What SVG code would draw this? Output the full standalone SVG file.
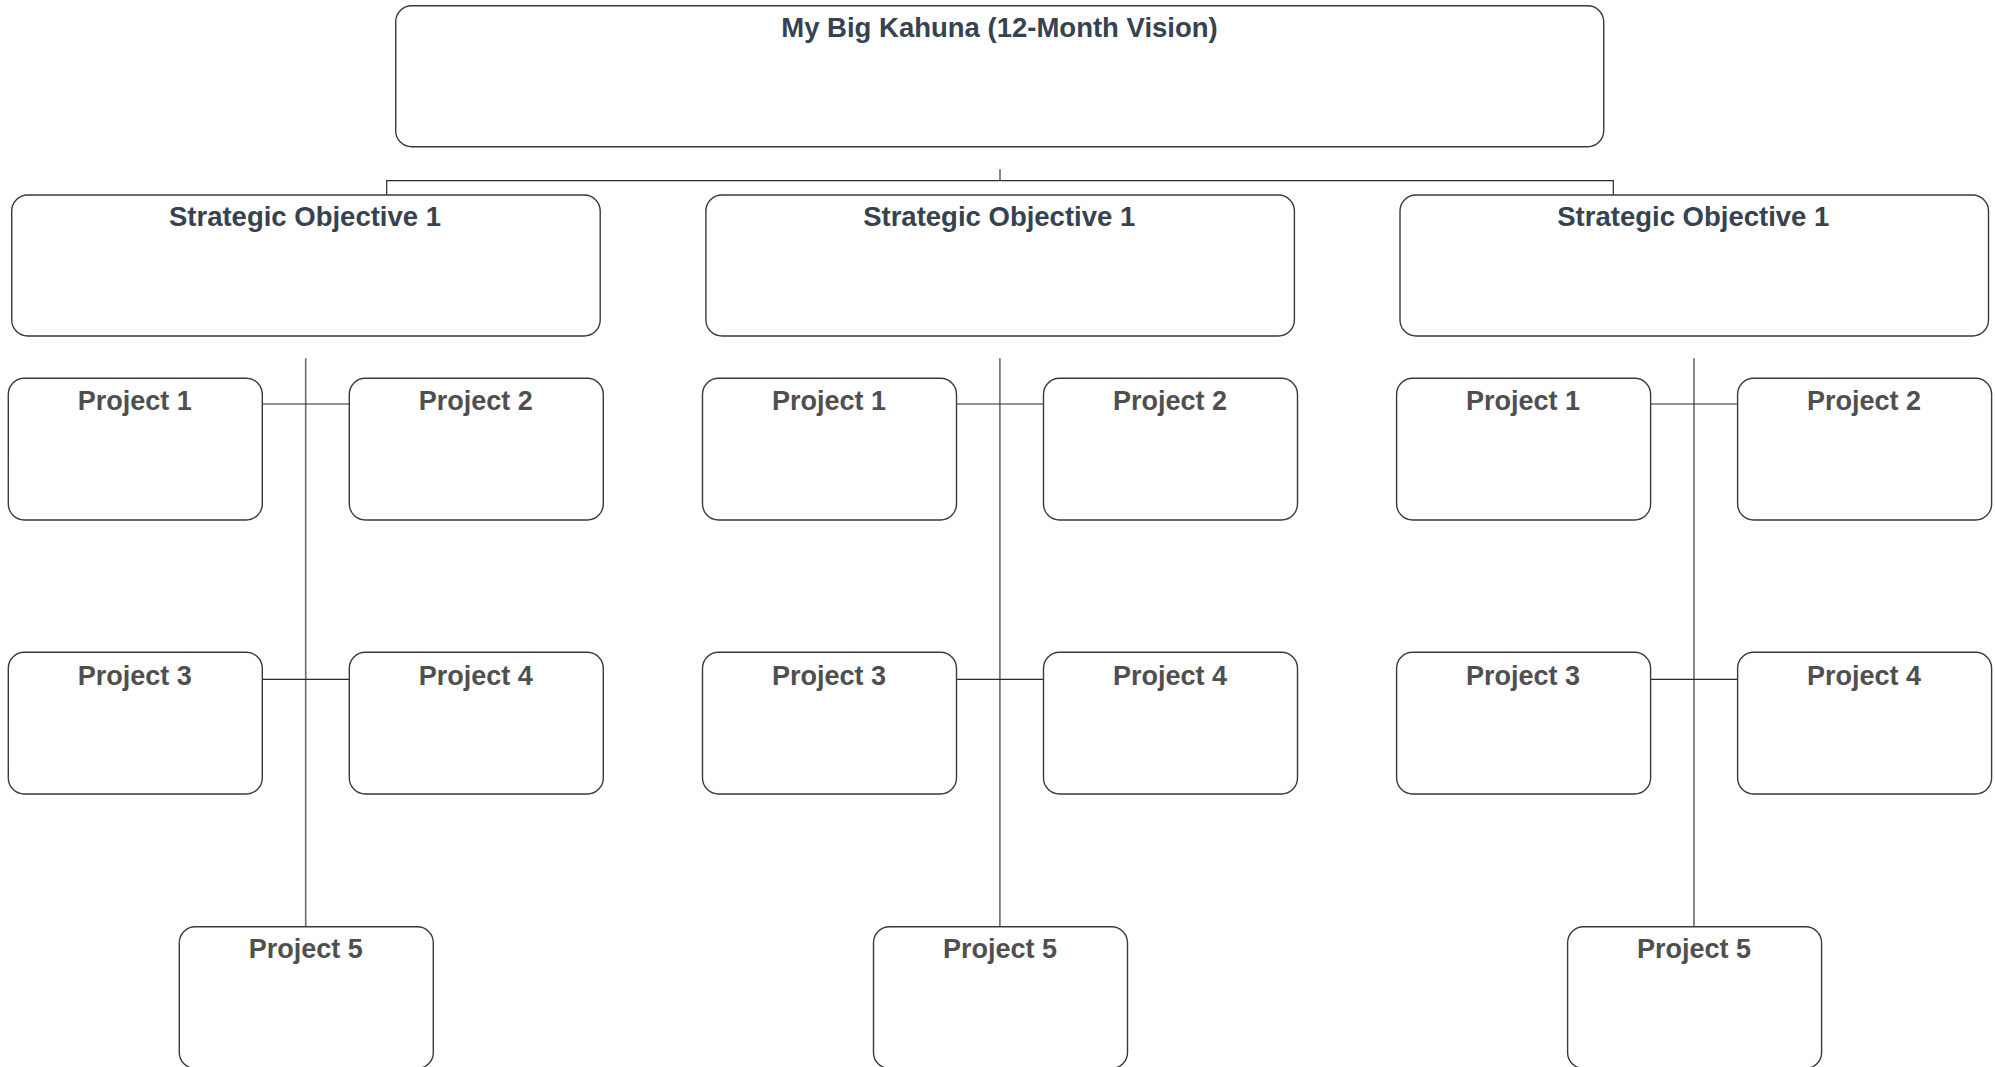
<svg xmlns="http://www.w3.org/2000/svg" width="1995" height="1067" viewBox="0 0 1995 1067">
  <style>
    .box { fill: #ffffff; stroke: #3a3a3a; stroke-width: 1.4; }
    .head { font-family: "Liberation Sans", Arial, sans-serif; font-weight: bold; font-size: 27.5px; fill: #36424f; text-anchor: middle; }
    .proj { font-family: "Liberation Sans", Arial, sans-serif; font-weight: bold; font-size: 27px; fill: #4f4f4f; text-anchor: middle; }
    .hline { stroke: #2a2a2a; stroke-width: 1.2; fill: none; }
    .vline { stroke: #6a6a6a; stroke-width: 1.6; fill: none; }
  </style>
  <defs>
    <!-- one column: objective box, four side projects, one bottom project -->
    <g id="column-links">
      <line class="vline" x1="305.7" y1="358.3" x2="305.7" y2="926.7"/>
      <line class="hline" x1="262.3" y1="404" x2="349.3" y2="404"/>
      <line class="hline" x1="262.3" y1="679.3" x2="349.3" y2="679.3"/>
    </g>
  </defs>
  <rect width="1995" height="1067" fill="#ffffff"/>

  <!-- connectors -->
  <g id="connectors">
    <polyline class="hline" points="386.7,195 386.7,180.7 1613.3,180.7 1613.3,195"/>
    <line class="vline" x1="1000" y1="169.3" x2="1000" y2="180.7"/>
    <use href="#column-links"/>
    <use href="#column-links" transform="translate(694.2 0)"/>
    <use href="#column-links" transform="translate(1388.3 0)"/>
  </g>

  <!-- vision -->
  <g id="vision">
    <rect class="box" x="395.7" y="5.7" width="1208" height="141" rx="16"/>
    <text class="head" x="999.5" y="36.7">My Big Kahuna (12-Month Vision)</text>
  </g>

  <!-- column 1 -->
  <g id="objective-1">
    <rect class="box" x="11.7" y="195" width="588.5" height="141" rx="16"/>
    <text class="head" x="305" y="226">Strategic Objective 1</text>
  </g>
  <g id="c1-project-1">
    <rect class="box" x="8.3" y="378.3" width="254" height="141.7" rx="16"/>
    <text class="proj" x="134.8" y="410">Project 1</text>
  </g>
  <g id="c1-project-2">
    <rect class="box" x="349.3" y="378.3" width="254" height="141.7" rx="16"/>
    <text class="proj" x="475.8" y="410">Project 2</text>
  </g>
  <g id="c1-project-3">
    <rect class="box" x="8.3" y="652.3" width="254" height="141.7" rx="16"/>
    <text class="proj" x="134.8" y="684.5">Project 3</text>
  </g>
  <g id="c1-project-4">
    <rect class="box" x="349.3" y="652.3" width="254" height="141.7" rx="16"/>
    <text class="proj" x="475.8" y="684.5">Project 4</text>
  </g>
  <g id="c1-project-5">
    <rect class="box" x="179.3" y="926.7" width="254" height="141.7" rx="16"/>
    <text class="proj" x="305.8" y="958.3">Project 5</text>
  </g>

  <!-- column 2 -->
  <g id="objective-2" transform="translate(694.2 0)">
    <rect class="box" x="11.7" y="195" width="588.5" height="141" rx="16"/>
    <text class="head" x="305" y="226">Strategic Objective 1</text>
  </g>
  <g id="c2-project-1" transform="translate(694.2 0)">
    <rect class="box" x="8.3" y="378.3" width="254" height="141.7" rx="16"/>
    <text class="proj" x="134.8" y="410">Project 1</text>
  </g>
  <g id="c2-project-2" transform="translate(694.2 0)">
    <rect class="box" x="349.3" y="378.3" width="254" height="141.7" rx="16"/>
    <text class="proj" x="475.8" y="410">Project 2</text>
  </g>
  <g id="c2-project-3" transform="translate(694.2 0)">
    <rect class="box" x="8.3" y="652.3" width="254" height="141.7" rx="16"/>
    <text class="proj" x="134.8" y="684.5">Project 3</text>
  </g>
  <g id="c2-project-4" transform="translate(694.2 0)">
    <rect class="box" x="349.3" y="652.3" width="254" height="141.7" rx="16"/>
    <text class="proj" x="475.8" y="684.5">Project 4</text>
  </g>
  <g id="c2-project-5" transform="translate(694.2 0)">
    <rect class="box" x="179.3" y="926.7" width="254" height="141.7" rx="16"/>
    <text class="proj" x="305.8" y="958.3">Project 5</text>
  </g>

  <!-- column 3 -->
  <g id="objective-3" transform="translate(1388.3 0)">
    <rect class="box" x="11.7" y="195" width="588.5" height="141" rx="16"/>
    <text class="head" x="305" y="226">Strategic Objective 1</text>
  </g>
  <g id="c3-project-1" transform="translate(1388.3 0)">
    <rect class="box" x="8.3" y="378.3" width="254" height="141.7" rx="16"/>
    <text class="proj" x="134.8" y="410">Project 1</text>
  </g>
  <g id="c3-project-2" transform="translate(1388.3 0)">
    <rect class="box" x="349.3" y="378.3" width="254" height="141.7" rx="16"/>
    <text class="proj" x="475.8" y="410">Project 2</text>
  </g>
  <g id="c3-project-3" transform="translate(1388.3 0)">
    <rect class="box" x="8.3" y="652.3" width="254" height="141.7" rx="16"/>
    <text class="proj" x="134.8" y="684.5">Project 3</text>
  </g>
  <g id="c3-project-4" transform="translate(1388.3 0)">
    <rect class="box" x="349.3" y="652.3" width="254" height="141.7" rx="16"/>
    <text class="proj" x="475.8" y="684.5">Project 4</text>
  </g>
  <g id="c3-project-5" transform="translate(1388.3 0)">
    <rect class="box" x="179.3" y="926.7" width="254" height="141.7" rx="16"/>
    <text class="proj" x="305.8" y="958.3">Project 5</text>
  </g>
</svg>
